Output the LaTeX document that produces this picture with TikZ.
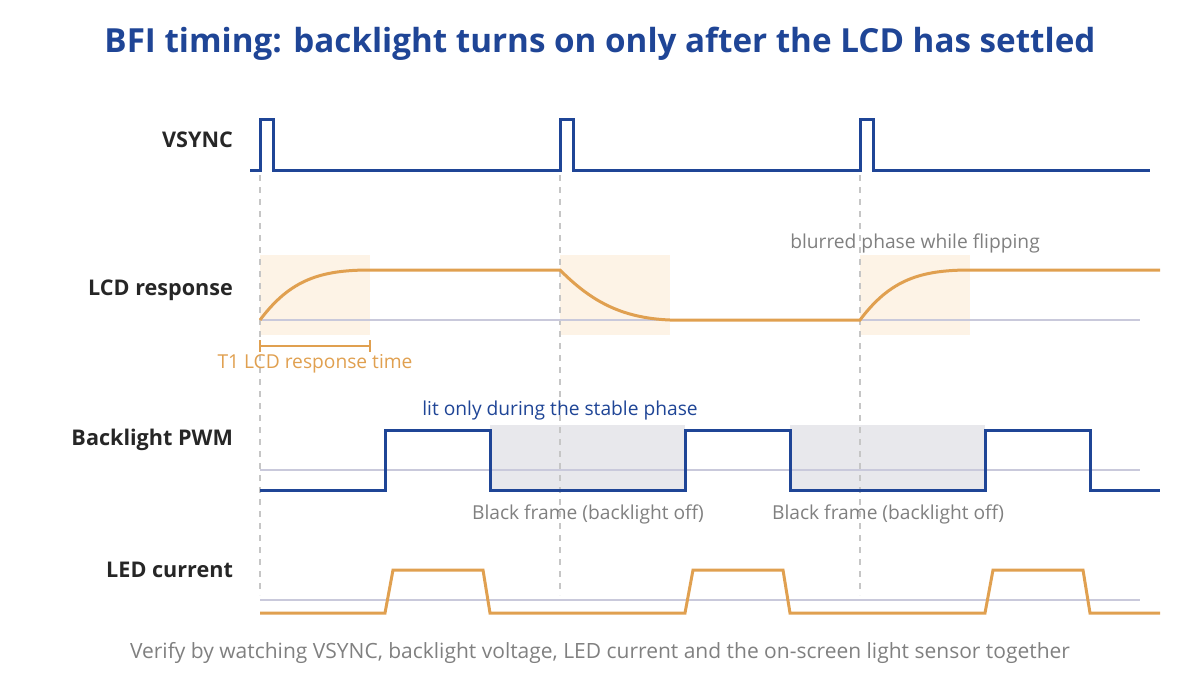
\documentclass[tikz,border=0pt]{standalone}
\usepackage{fontspec}
\setmainfont{Open Sans}
\begin{document}
\begin{tikzpicture}[x=0.5pt,y=-0.5pt,
  lbl/.style={anchor=east,font=\fontsize{10.8}{13}\selectfont\bfseries,text=black!85},
  note/.style={font=\fontsize{9.6}{11}\selectfont},
  sig/.style={line width=1.5pt,line join=miter},
  ref/.style={draw=blue!20!gray!35,line width=0.7pt},
  guide/.style={draw=gray!45,dashed,line width=0.6pt}]
\definecolor{bl}{HTML}{1F4596}
\definecolor{og}{HTML}{E0A050}
\definecolor{sh}{HTML}{FDF3E6}
\definecolor{gs}{HTML}{E8E8EC}
\useasboundingbox (0,0) rectangle (1200,675);
\node[font=\fontsize{16.6}{19}\selectfont\bfseries,text=bl] (title) at (600,44) {BFI timing: backlight turns on only after the LCD has settled};
% shaded regions
\foreach \a in {260,560,860} \fill[sh] (\a,255) rectangle (\a+110,335);
\fill[gs] (490,425) rectangle (685,490);
\fill[gs] (790,425) rectangle (985,490);
% guides
\foreach \a in {260,560,860} \draw[guide] (\a,175) -- (\a,595);
% ref lines
\draw[ref] (260,320) -- (1140,320);
\draw[ref] (260,470) -- (1140,470);
\draw[ref] (260,600) -- (1140,600);
% labels
\node[lbl] (l1) at (240,140) {VSYNC};
\node[lbl] (l2) at (240,290) {LCD response};
\node[lbl] (l3) at (240,440) {Backlight PWM};
\node[lbl] (l4) at (240,570) {LED current};
% VSYNC
\draw[sig,bl] (250,170) -- (260,170) -- (260,119) -- (273,119) -- (273,170) -- (560,170) -- (560,119) -- (573,119) -- (573,170) -- (860,170) -- (860,119) -- (873,119) -- (873,170) -- (1150,170);
% LCD
\draw[sig,og] (260,320) .. controls (290,280) and (320,270) .. (370,270) -- (560,270)
  .. controls (590,300) and (620,318) .. (670,320) -- (860,320)
  .. controls (890,280) and (920,270) .. (970,270) -- (1160,270);
\draw[og,line width=0.9pt] (260,340) -- (260,352) (260,346) -- (370,346) (370,340) -- (370,352);
\node[note,text=og] (t1) at (315,364) {T1 LCD response time};
\node[note,text=gray] (blur) at (915,243) {blurred phase while flipping};
% PWM
\draw[sig,bl] (260,490) -- (385,490) -- (385,430) -- (490,430) -- (490,490) -- (685,490) -- (685,430) -- (790,430) -- (790,490) -- (985,490) -- (985,430) -- (1090,430) -- (1090,490) -- (1160,490);
\node[note,text=bl] (lit) at (560,411) {lit only during the stable phase};
\node[note,text=gray] (bf1) at (588,514) {Black frame (backlight off)};
\node[note,text=gray] (bf2) at (888,514) {Black frame (backlight off)};
% LED
\draw[sig,og] (260,613) -- (385,613) -- (393,570) -- (483,570) -- (490,613) -- (685,613) -- (693,570) -- (783,570) -- (790,613) -- (985,613) -- (993,570) -- (1083,570) -- (1090,613) -- (1160,613);
\node[note,text=gray,font=\fontsize{10.5}{12}\selectfont] (foot) at (600,653) {Verify by watching VSYNC, backlight voltage, LED current and the on-screen light sensor together};
\end{tikzpicture}
\end{document}
